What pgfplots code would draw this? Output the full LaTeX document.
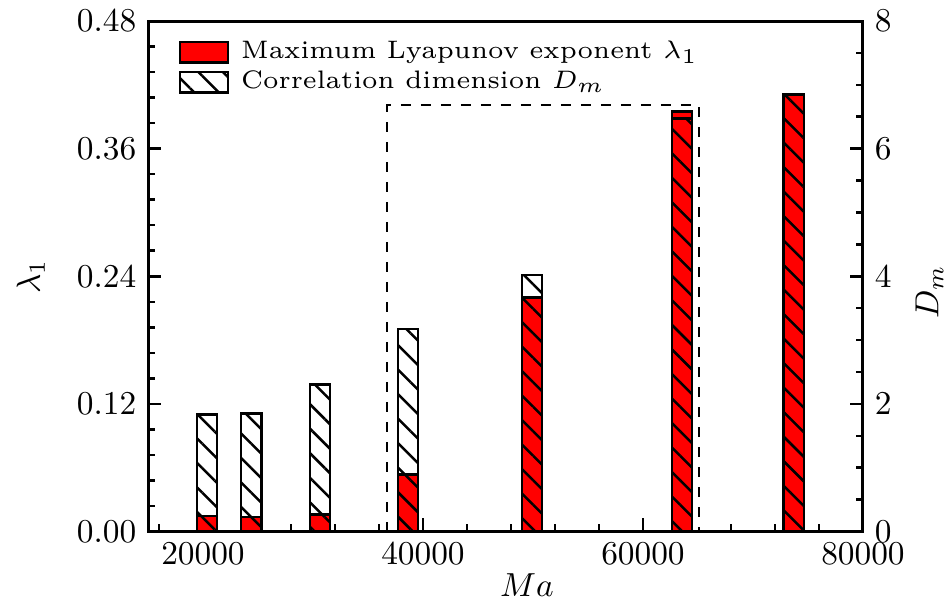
\documentclass[border=0pt]{standalone}
\usepackage{pgfplots}
\pgfplotsset{compat=1.18}
\usetikzlibrary{patterns.meta}

\pgfplotstableread{
Ma    lam     Dm
20360 0.0146 1.837
24390 0.0137 1.852
30640 0.0162 2.307
38640 0.0538 3.174
49910 0.2199 4.020
63560 0.3948 6.470
73710 0.4111 6.840
}\datatable

\newcommand{\legtext}[1]{\hspace*{1.6pt}\scalebox{1.265}{\fontsize{6}{7}\selectfont #1}}

\begin{document}
\begin{tikzpicture}
\path[use as bounding box] (-44.4pt,-23.25pt) rectangle (240.9pt,159.45pt);
\pgfplotsset{
  common/.style={
    scale only axis, width=214.5pt, height=153.15pt,
    at={(0,0)}, anchor=south west,
    xmin=15000, xmax=80000,
    axis line style={line width=0.9pt},
    major tick length=4pt, minor tick length=2.2pt,
    every tick/.style={line width=0.75pt, black},
    tick align=inside,
    scaled x ticks=false,
    xticklabel style={/pgf/number format/1000 sep={}},
    legend image code/.code={\draw[#1, line width=0.75pt] (0pt,-3.1pt) rectangle (14.4pt,3.1pt);},
  }
}
\begin{axis}[common,
  ymin=0, ymax=0.48,
  ytick={0,0.12,0.24,0.36,0.48},
  minor ytick={0.024,0.048,0.072,0.096,0.144,0.168,0.192,0.216,0.264,0.288,0.312,0.336,0.384,0.408,0.432,0.456},
  yticklabel style={/pgf/number format/.cd, fixed, fixed zerofill, precision=2},
  xtick={20000,40000,60000,80000},
  minor xtick={16000,24000,28000,32000,36000,44000,48000,52000,56000,64000,68000,72000,76000},
  xtick pos=bottom, ytick pos=left,
  xlabel={$Ma$}, ylabel={$\lambda_1$},
  xlabel style={at={(ticklabel cs:0.53)}, anchor=near ticklabel, yshift=4.2pt},
  ylabel style={at={(axis description cs:-0.164,0.5)}, anchor=center},
]
\addplot[ybar, bar width=1830, fill=red, draw=black, line width=0.75pt] table[x=Ma, y=lam] {\datatable};
\addplot[dashed, line width=0.6pt, black, mark=none] coordinates {(36750,0) (36750,0.4008) (65100,0.4008) (65100,0)};
\end{axis}
\begin{axis}[common,
  ymin=0, ymax=8,
  axis x line=none, axis y line*=right,
  ytick={0,2,4,6,8},
  minor ytick={0.5,1,1.5,2.5,3,3.5,4.5,5,5.5,6.5,7,7.5},
  ylabel={$D_m$},
  ylabel style={at={(axis description cs:1.093,0.47)}, anchor=center},
  legend style={at={(axis description cs:0,1)}, anchor=north west, xshift=8pt, yshift=-2.8pt,
    draw=none, fill=none, row sep=-1.8pt, inner sep=1pt},
  legend cell align=left,
]
\addlegendimage{fill=red, draw=black}
\addlegendentry{\legtext{Maximum Lyapunov exponent $\lambda_1$}}
\addplot[ybar, bar width=1830, draw=black, line width=0.75pt, pattern={Lines[angle=-45, distance=5.2pt, line width=0.75pt]}, pattern color=black] table[x=Ma, y=Dm] {\datatable};
\addlegendentry{\legtext{Correlation dimension $D_m$}}
\end{axis}
\end{tikzpicture}
\end{document}
